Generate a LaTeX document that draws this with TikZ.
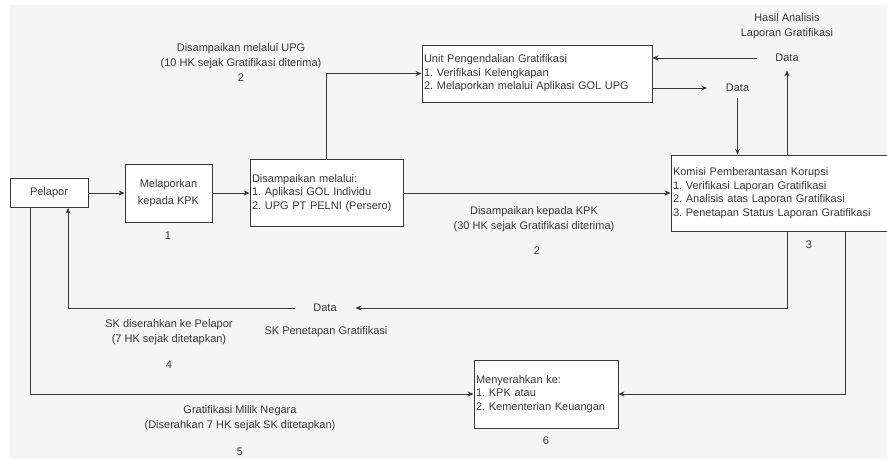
\documentclass[tikz,border=0pt]{standalone}
\usepackage{fontspec}
\setmainfont{Liberation Sans}
\frenchspacing
\usetikzlibrary{arrows.meta}
\definecolor{latar}{RGB}{245,245,245}
\definecolor{garis}{RGB}{55,55,55}

\begin{document}
\begin{tikzpicture}[x=1pt, y=-1pt, >={Stealth[length=6pt,width=5pt]}, line width=0.8pt, color=garis,
    kotak/.style={draw, fill=white, inner sep=2pt, font=\fontsize{11}{13.5}\selectfont},
    ket/.style={align=center, font=\fontsize{11}{15}\selectfont},
    data/.style={minimum width=60pt, minimum height=20pt, inner sep=0pt, font=\fontsize{11}{13.5}\selectfont}]
    \useasboundingbox (0,0) rectangle (887,459);
    \fill[latar] (10,5) rectangle (887,459);
    % kotak proses
    \node[kotak, minimum width=78pt, minimum height=29pt] (pelapor) at (49,193) {Pelapor};
    \node[kotak, minimum width=87pt, minimum height=58pt, align=center, font=\fontsize{11}{16.5}\selectfont] (lapor) at (168.5,193) {Melaporkan\\kepada KPK};
    \node[kotak, text width=149pt, minimum height=67pt, align=left] (salur) at (326.5,193) {Disampaikan melalui:\\1. Aplikasi GOL Individu\\2. UPG PT PELNI (Persero)};
    \node[kotak, text width=226pt, minimum height=57pt, align=left] (upg) at (537,73.5) {Unit Pengendalian Gratifikasi\\1. Verifikasi Kelengkapan\\2. Melaporkan melalui Aplikasi GOL UPG};
    \node[kotak, text width=228pt, minimum height=76pt, align=left] (kpk) at (787,193) {Komisi Pemberantasan Korupsi\\1. Verifikasi Laporan Gratifikasi\\2. Analisis atas Laporan Gratifikasi\\3. Penetapan Status Laporan Gratifikasi};
    \node[kotak, text width=140pt, minimum height=68pt, align=left] (serah) at (546,394) {Menyerahkan ke:\\1. KPK atau\\2. Kementerian Keuangan};
    % data
    \node[data] (data1) at (737.5,88) {Data};
    \node[data, minimum height=24pt] (data2) at (787,58) {Data};
    \node[data] (data3) at (325,308) {Data};
    % alur
    \draw[->] (pelapor) -- (lapor);
    \draw[->] (lapor) -- (salur);
    \draw[->] (salur.north) |- (upg.west);
    \draw[->] (salur.east) -- (kpk.west |- salur.east);
    \draw[->] (upg.east |- data1) -- (data1.west);
    \draw[->] (data1.south) -- (data1.south |- kpk.north);
    \draw[->] (kpk.north) -- (data2.south);
    \draw[->] (data2.west) -- (upg.east |- data2);
    \draw[->] (kpk.south) |- (data3.east);
    \draw[->] (data3.west) -| ([xshift=19pt]pelapor.south);
    \draw[->] ([xshift=-19pt]pelapor.south) |- (serah.west);
    \draw[->] ([xshift=58pt]kpk.south) |- (serah.east);
    % keterangan
    \node[ket] (kupg) at (241,63) {Disampaikan melalui UPG\\(10 HK sejak Gratifikasi diterima)\\2};
    \node[ket] (k1) at (168,236) {1};
    \node[ket] (kkpk) at (534,219) {Disampaikan kepada KPK\\(30 HK sejak Gratifikasi diterima)};
    \node[ket] (k2) at (537,251) {2};
    \node[ket] (k3) at (809,245) {3};
    \node[ket] (khasil) at (787,26) {Hasil Analisis\\Laporan Gratifikasi};
    \node[ket] (ksk) at (169,332.5) {SK diserahkan ke Pelapor\\(7 HK sejak ditetapkan)};
    \node[ket] (k4) at (169,365) {4};
    \node[ket] (kpen) at (326,332) {SK Penetapan Gratifikasi};
    \node[ket] (kmilik) at (240,418.5) {Gratifikasi Milik Negara\\(Diserahkan 7 HK sejak SK ditetapkan)};
    \node[ket] (k5) at (240,452) {5};
    \node[ket] (k6) at (546,441) {6};
\end{tikzpicture}
\end{document}
